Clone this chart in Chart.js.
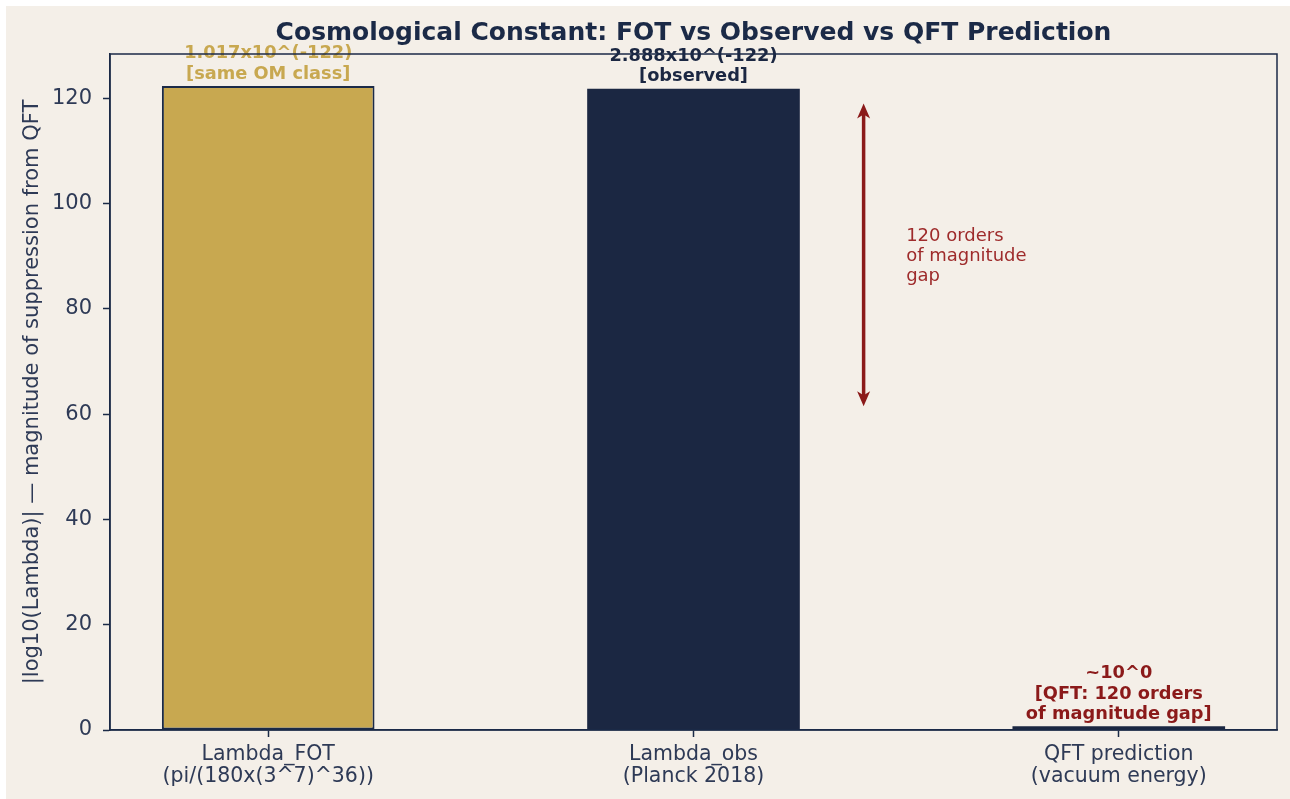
<!DOCTYPE html>
<html>
<head>
<meta charset="utf-8">
<script src="https://cdn.jsdelivr.net/npm/chart.js@4.4.1/dist/chart.umd.min.js"></script>
<style>
  html, body { margin: 0; padding: 0; background: #ffffff; }
  #wrap { width: 1290px; height: 799px; position: relative; }
</style>
</head>
<body>
<div id="wrap"><canvas id="chart" width="1290" height="799"></canvas></div>
<script>
// --- Data ---
const categories = [
    ['Lambda_FOT', '(pi/(180x(3^7)^36))'],
    ['Lambda_obs', '(Planck 2018)'],
    ['QFT prediction', '(vacuum energy)']
];
const suppression = [122.3, 121.8, 0.7];   // |log10(Lambda)|
const barColors = ['#c8a850', '#1b2742', '#1b2742'];
const barLabels = [
    ['1.017x10^(-122)', '[same OM class]'],
    ['2.888x10^(-122)', '[observed]'],
    ['~10^0', '[QFT: 120 orders', 'of magnitude gap]']
];
const barLabelColors = ['#c8a850', '#1b2742', '#8b1a1a'];
const yTicks = [0, 20, 40, 60, 80, 100, 120];
// gap arrow, in data units (x position, top, bottom) and its note
const gapArrow = [1.4, 119.0, 61.5];
const gapNote = ['120 orders', 'of magnitude', 'gap'];
const gapNotePos = [1.5, 90];

const NAVY = '#1b2a47';
const TICK = '#2e3a56';
const RED = '#8b1a1a';
const BG = '#f4efe8';
const FONT = "'DejaVu Sans', sans-serif";

const decorPlugin = {
    id: 'decor',
    beforeDraw(chart) {
        const ctx = chart.ctx;
        ctx.save();
        ctx.fillStyle = '#ffffff';
        ctx.fillRect(0, 0, chart.width, chart.height);
        ctx.fillStyle = BG;
        ctx.fillRect(6, 6, chart.width - 6, chart.height - 6);
        ctx.restore();
    },
    afterDatasetsDraw(chart) {
        const ctx = chart.ctx;
        const xs = chart.scales.x, ys = chart.scales.y;
        const area = chart.chartArea;
        ctx.save();

        // value labels over the bars
        ctx.font = 'bold 17.8px ' + FONT;
        ctx.textAlign = 'center';
        ctx.textBaseline = 'alphabetic';
        barLabels.forEach((lines, i) => {
            const px = xs.getPixelForValue(i);
            const bottom = ys.getPixelForValue(suppression[i] + 1.0) - 2;
            ctx.fillStyle = barLabelColors[i];
            lines.forEach((t, j) => {
                ctx.fillText(t, px, bottom - (lines.length - 1 - j) * 20.5);
            });
        });

        // double headed arrow for the gap
        const ax = xs.getPixelForValue(gapArrow[0]);
        const aTop = ys.getPixelForValue(gapArrow[1]);
        const aBot = ys.getPixelForValue(gapArrow[2]);
        ctx.strokeStyle = RED;
        ctx.fillStyle = RED;
        ctx.lineWidth = 3.5;
        ctx.beginPath();
        ctx.moveTo(ax, aTop + 10);
        ctx.lineTo(ax, aBot - 10);
        ctx.stroke();
        [[aTop, 1], [aBot, -1]].forEach(([tipY, dir]) => {
            ctx.beginPath();
            ctx.moveTo(ax, tipY);
            ctx.lineTo(ax - 6.5, tipY + dir * 15);
            ctx.lineTo(ax, tipY + dir * 11);
            ctx.lineTo(ax + 6.5, tipY + dir * 15);
            ctx.closePath();
            ctx.fill();
        });

        // note beside the arrow
        ctx.font = '18px ' + FONT;
        ctx.fillStyle = '#9e2b2b';
        ctx.textAlign = 'left';
        ctx.textBaseline = 'middle';
        const nx = xs.getPixelForValue(gapNotePos[0]);
        const ny = ys.getPixelForValue(gapNotePos[1]);
        gapNote.forEach((t, j) => {
            ctx.fillText(t, nx, ny + (j - 1) * 20);
        });

        // frame (spines) drawn on top
        ctx.strokeStyle = NAVY;
        ctx.lineWidth = 1.5;
        ctx.strokeRect(area.left, area.top, area.right - area.left, area.bottom - area.top);

        // title
        ctx.font = 'bold 25px ' + FONT;
        ctx.fillStyle = NAVY;
        ctx.textAlign = 'center';
        ctx.textBaseline = 'middle';
        ctx.fillText('Cosmological Constant: FOT vs Observed vs QFT Prediction',
            (area.left + area.right) / 2, 33);
        ctx.restore();
    }
};

const ctx = document.getElementById('chart');
new Chart(ctx, {
    type: 'bar',
    data: {
        datasets: [{
            data: suppression.map((v, i) => ({ x: i, y: v })),
            backgroundColor: barColors,
            borderColor: NAVY,
            borderWidth: [2, 0, 0],
            borderSkipped: false,
            barPercentage: 0.5,
            categoryPercentage: 1.0
        }]
    },
    options: {
        responsive: false,
        animation: false,
        layout: { padding: { left: 0, top: 54, right: 13, bottom: 0 } },
        plugins: {
            legend: { display: false },
            tooltip: { enabled: false },
            title: { display: false }
        },
        scales: {
            x: {
                type: 'linear',
                offset: false,
                min: -0.372,
                max: 2.372,
                afterBuildTicks: scale => {
                    scale.ticks = categories.map((c, i) => ({ value: i }));
                },
                afterFit: scale => { scale.height = 69; },
                grid: {
                    display: true,
                    offset: false,
                    drawOnChartArea: false,
                    drawTicks: true,
                    tickLength: 7,
                    tickWidth: 1.5,
                    tickColor: NAVY
                },
                border: { display: true, color: NAVY, width: 1.5 },
                ticks: {
                    autoSkip: false,
                    maxRotation: 0,
                    padding: 6,
                    color: TICK,
                    font: { family: FONT, size: 20.5, lineHeight: 1.1 },
                    callback: v => categories[v] || ''
                }
            },
            y: {
                min: 0,
                max: 128.4,
                afterBuildTicks: scale => {
                    scale.ticks = yTicks.map(v => ({ value: v }));
                },
                afterFit: scale => { scale.width = 110; },
                grid: {
                    display: true,
                    drawOnChartArea: false,
                    drawTicks: true,
                    tickLength: 7,
                    tickWidth: 1.5,
                    tickColor: NAVY
                },
                border: { display: true, color: NAVY, width: 1.5 },
                ticks: {
                    padding: 11,
                    color: TICK,
                    font: { family: FONT, size: 21 }
                },
                title: {
                    display: true,
                    text: '|log10(Lambda)| \u2014 magnitude of suppression from QFT',
                    color: TICK,
                    font: { family: FONT, size: 21 },
                    padding: { top: 20, bottom: 0 }
                }
            }
        }
    },
    plugins: [decorPlugin]
});
</script>
</body>
</html>
